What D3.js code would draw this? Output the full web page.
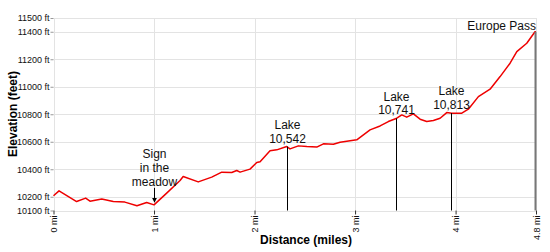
<!DOCTYPE html>
<html>
<head>
<meta charset="utf-8">
<script src="https://cdn.jsdelivr.net/npm/d3@7"></script>
<style>
  body { margin: 0; background: #fff; }
  text { font-family: "Liberation Sans", Arial, sans-serif; }
</style>
</head>
<body>
<div id="chart"></div>
<script>
// elevation profile (miles, feet)
const distance = [0, 0.055, 0.23, 0.32, 0.363, 0.48, 0.595, 0.71, 0.83, 0.927, 1.0,
  1.126, 1.259, 1.29, 1.44, 1.574, 1.674, 1.773, 1.823, 1.856, 1.955, 2.022, 2.055,
  2.154, 2.221, 2.32, 2.353, 2.436, 2.52, 2.619, 2.685, 2.784, 2.851, 3.017, 3.149,
  3.249, 3.331, 3.415, 3.465, 3.514, 3.58, 3.647, 3.713, 3.779, 3.846, 3.912, 3.962,
  4.062, 4.127, 4.227, 4.343, 4.443, 4.542, 4.609, 4.708, 4.79, 4.8];
const elevation = [10207, 10243, 10165, 10190, 10168, 10183, 10165, 10161, 10134, 10158, 10141,
  10226, 10318, 10347, 10308, 10343, 10379, 10376, 10391, 10379, 10401, 10449, 10454,
  10534, 10541, 10565, 10548, 10570, 10565, 10561, 10585, 10582, 10597, 10614, 10686,
  10715, 10747, 10771, 10795, 10779, 10803, 10764, 10747, 10754, 10771, 10812, 10808,
  10808, 10837, 10928, 10982, 11074, 11171, 11255, 11316, 11400, 11400];

const yTicks = [10100, 10200, 10400, 10600, 10800, 11000, 11200, 11400, 11500];
const xTicks = [0, 1, 2, 3, 4, 4.8];

// waypoints
const markMiles = [1.0, 2.32, 3.41, 3.955, 4.8];
const markLabels = [["Sign", "in the", "meadow"], ["Lake", "10,542"], ["Lake", "10,741"], ["Lake", "10,813"], ["Europe Pass"]];

const width = 550;
const height = 252;

const svg = d3.select('#chart').append('svg')
  .attr('width', width)
  .attr('height', height);

const x = d3.scaleLinear().domain([0, 4.8]).range([53.5, 536]);
const y = d3.scaleLinear().domain([10100, 11500]).range([210.5, 18]);

// grid
svg.append('g').selectAll('line')
  .data(yTicks)
  .enter().append('line')
  .attr('x1', x(0)).attr('x2', x(4.8))
  .attr('y1', d => Math.round(y(d)) + 0.5).attr('y2', d => Math.round(y(d)) + 0.5)
  .attr('stroke', '#e3e3e3');

svg.append('g').selectAll('line')
  .data(xTicks)
  .enter().append('line')
  .attr('x1', d => Math.round(x(d)) + 0.5).attr('x2', d => Math.round(x(d)) + 0.5)
  .attr('y1', y(11500)).attr('y2', y(10100))
  .attr('stroke', '#e3e3e3');

// axes
const yAxis = d3.axisLeft(y).tickValues(yTicks).tickSize(3).tickPadding(1)
  .tickFormat(d => d + ' ft');
const gy = svg.append('g')
  .attr('transform', `translate(${x(0)},0)`)
  .call(yAxis);
gy.select('.domain').remove();
gy.selectAll('.tick line').attr('stroke', '#999');
gy.selectAll('text').style('font-size', '9px').attr('fill', '#111');

const xAxis = d3.axisBottom(x).tickValues(xTicks).tickSize(4).tickPadding(0)
  .tickFormat(d => d + ' mi');
const gx = svg.append('g')
  .attr('transform', `translate(0,${y(10100)})`)
  .call(xAxis);
gx.select('.domain').remove();
gx.selectAll('.tick line').attr('stroke', '#333');
gx.selectAll('text')
  .style('font-size', '9px')
  .attr('fill', '#111')
  .style('text-anchor', 'end')
  .attr('transform', 'rotate(-90)')
  .attr('x', -5)
  .attr('y', 0)
  .attr('dy', '0.35em');

// axis titles
svg.append('text')
  .attr('transform', 'translate(17,114) rotate(-90)')
  .attr('text-anchor', 'middle')
  .style('font-size', '12px')
  .style('font-weight', 'bold')
  .text('Elevation (feet)');

svg.append('text')
  .attr('x', 306)
  .attr('y', 244)
  .attr('text-anchor', 'middle')
  .style('font-size', '12px')
  .style('font-weight', 'bold')
  .text('Distance (miles)');

// profile
const line = d3.line()
  .x((d, i) => x(distance[i]))
  .y(d => y(d));

svg.append('path')
  .datum(elevation)
  .attr('d', line)
  .attr('fill', 'none')
  .attr('stroke', '#ee0000')
  .attr('stroke-width', 1.5)
  .attr('stroke-linejoin', 'round');

// elevation on the profile at a given mile
function elevAt(m) {
  const i = d3.bisectLeft(distance, m);
  if (i <= 0) return elevation[0];
  if (i >= distance.length) return elevation[elevation.length - 1];
  const t = (m - distance[i - 1]) / (distance[i] - distance[i - 1]);
  return elevation[i - 1] + t * (elevation[i] - elevation[i - 1]);
}

// markers
svg.append('defs').append('marker')
  .attr('id', 'arrow')
  .attr('viewBox', '0 0 6 6')
  .attr('refX', 5).attr('refY', 3)
  .attr('markerWidth', 5).attr('markerHeight', 5)
  .attr('orient', 'auto')
  .append('path').attr('d', 'M0,0L6,3L0,6Z').attr('fill', '#000');

markMiles.forEach((m, k) => {
  const px = Math.round(x(m)) + 0.5;
  const py = y(elevAt(m));
  const lines = markLabels[k];
  const g = svg.append('g');
  let lastBase;
  if (k === 0) {
    // arrow pointing at the trail
    g.append('line')
      .attr('x1', px).attr('x2', px)
      .attr('y1', py - 17).attr('y2', py - 3)
      .attr('stroke', '#000')
      .attr('marker-end', 'url(#arrow)');
    lastBase = py - 19;
  } else if (k === markMiles.length - 1) {
    g.append('line')
      .attr('x1', x(m) - 0.5).attr('x2', x(m) - 0.5)
      .attr('y1', py).attr('y2', y(10100))
      .attr('stroke', '#777')
      .attr('stroke-width', 2);
    lastBase = py - 2;
  } else {
    g.append('line')
      .attr('x1', px).attr('x2', px)
      .attr('y1', py).attr('y2', y(10100))
      .attr('stroke', '#000');
    lastBase = py - 4;
  }
  const anchor = k === markMiles.length - 1 ? 'end' : 'middle';
  lines.forEach((s, j) => {
    g.append('text')
      .attr('x', k === markMiles.length - 1 ? x(m) : px)
      .attr('y', lastBase - (lines.length - 1 - j) * 13.8)
      .attr('text-anchor', anchor)
      .style('font-size', '12px')
      .attr('fill', '#111')
      .text(s);
  });
});
</script>
</body>
</html>
